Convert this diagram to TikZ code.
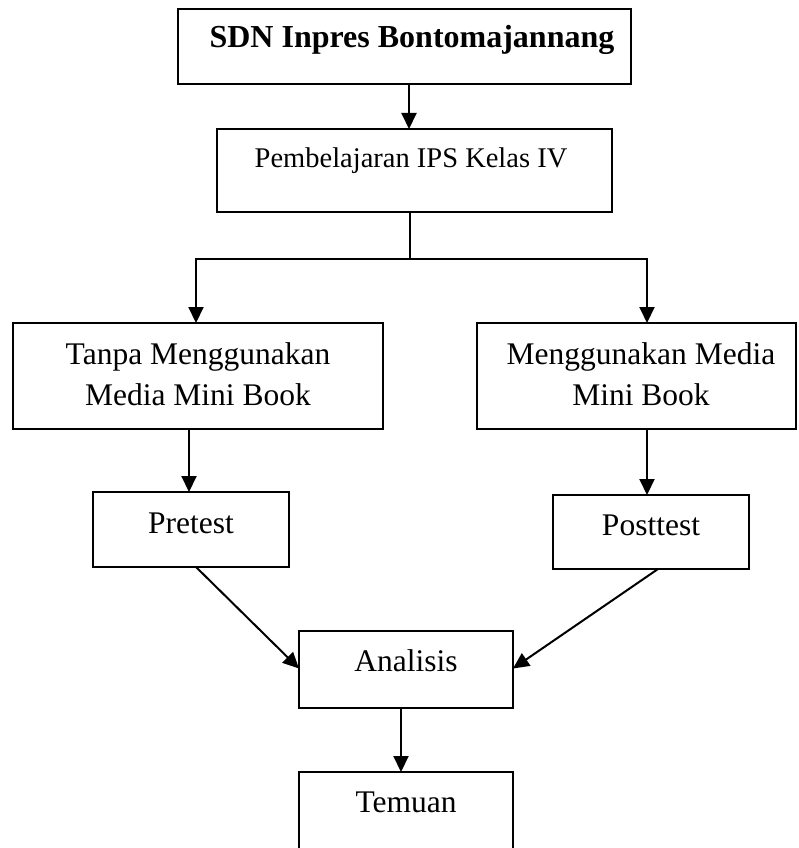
\documentclass[tikz,border=0pt]{standalone}
\usepackage{fontspec}
\setmainfont{Liberation Serif}
\usetikzlibrary{arrows.meta,calc}
\begin{document}
\begin{tikzpicture}[x=1pt,y=-1pt,
  box/.style={draw, line width=2pt, rectangle, inner sep=0pt, outer sep=0pt, anchor=north west},
  conn/.style={line width=2pt},
  arr/.style={conn, -{Triangle[length=16pt,width=15pt]}},
  lbl/.style={anchor=base, inner sep=0pt, font=\fontsize{31.5}{38}\selectfont},
]
\useasboundingbox (0,0) rectangle (798,848);
\clip (0,0) rectangle (798,848);
% boxes
\node[box, minimum width=453pt, minimum height=75pt] (b1) at (178,9) {};
\node[box, minimum width=395pt, minimum height=83pt] (b2) at (217,129) {};
\node[box, minimum width=370pt, minimum height=106pt] (b3l) at (13,323) {};
\node[box, minimum width=319pt, minimum height=106pt] (b3r) at (477,323) {};
\node[box, minimum width=196pt, minimum height=75pt] (pre) at (93,492) {};
\node[box, minimum width=196pt, minimum height=74pt] (post) at (553,495) {};
\node[box, minimum width=214pt, minimum height=77pt] (ana) at (299,631) {};
\node[box, minimum width=214pt, minimum height=90pt] (tem) at (299,772) {};
% texts
\node[lbl, font=\fontsize{32}{38}\selectfont\bfseries] (t1) at (412,48) {SDN Inpres Bontomajannang};
\node[lbl, font=\fontsize{28.5}{34}\selectfont] (t2) at (411,167) {Pembelajaran IPS Kelas IV};
\node[lbl] (t3la) at (198,364) {Tanpa Menggunakan};
\node[lbl] (t3lb) at (198,405) {Media Mini Book};
\node[lbl] (t3ra) at (641,364) {Menggunakan Media};
\node[lbl] (t3rb) at (641,405) {Mini Book};
\node[lbl] (tpre) at (191,533) {Pretest};
\node[lbl] (tpost) at (651,535) {Posttest};
\node[lbl] (tana) at (406,671) {Analisis};
\node[lbl] (ttem) at (406,812) {Temuan};
% connectors
\coordinate (xa) at (409,0);
\coordinate (j) at (410,259);
\coordinate (xl) at (196,0);
\coordinate (xr) at (647,0);
\coordinate (xp) at (189,0);
\coordinate (xt) at (401,0);
\draw[arr] (b1.south -| xa) -- (b2.north -| xa);
\draw[conn] (b2.south -| j) -- (j);
\draw[arr] (j) -| (b3l.north -| xl);
\draw[arr] (j) -| (b3r.north -| xr);
\draw[arr] (b3l.south -| xp) -- (pre.north -| xp);
\draw[arr] (b3r.south -| xr) -- (post.north -| xr);
\draw[arr] ($(pre.south)+(5,0)$) -- ($(ana.west)+(0,-1)$);
\draw[arr] ($(post.south)+(7,0)$) -- ($(ana.east)+(0,-1)$);
\draw[arr] (ana.south -| xt) -- (tem.north -| xt);
\end{tikzpicture}
\end{document}
